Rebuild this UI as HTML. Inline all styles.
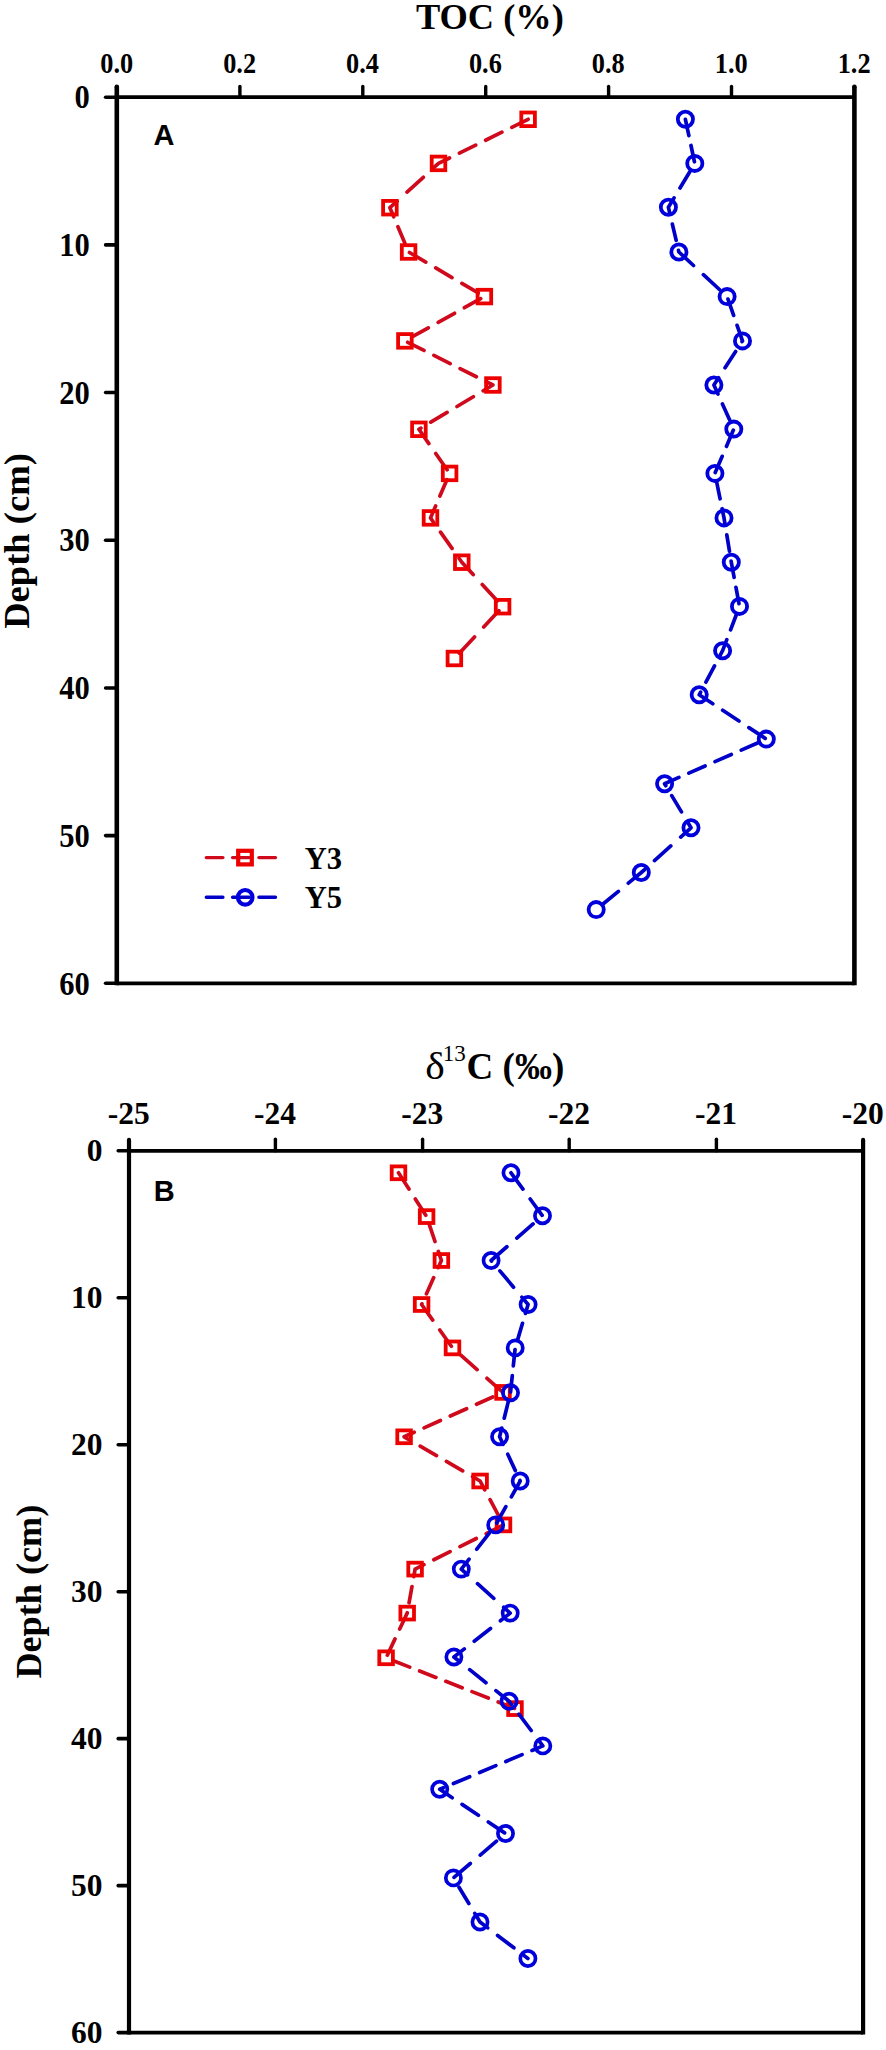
<!DOCTYPE html>
<html><head><meta charset="utf-8"><title>TOC and d13C depth profiles</title>
<style>html,body{margin:0;padding:0;background:#fff;width:886px;height:2050px;overflow:hidden}svg{display:block}</style>
</head><body>
<svg width="886" height="2050" viewBox="0 0 886 2050">
<rect width="886" height="2050" fill="#fff"/>
<g stroke="#000" stroke-linecap="butt">
<line x1="116.8" y1="86.8" x2="116.8" y2="985.15" stroke-width="4.6"/>
<circle cx="116.8" cy="86.8" r="2.3" fill="#000" stroke="none"/>
<line x1="854.4" y1="86.8" x2="854.4" y2="985.15" stroke-width="4.6"/>
<circle cx="854.4" cy="86.8" r="2.3" fill="#000" stroke="none"/>
<line x1="116.8" y1="97.2" x2="854.4" y2="97.2" stroke-width="3.7"/>
<line x1="116.8" y1="983.3" x2="854.4" y2="983.3" stroke-width="3.7"/>
<line x1="239.9" y1="86.4" x2="239.9" y2="97.2" stroke-width="3.4" stroke-linecap="round"/>
<line x1="362.8" y1="86.4" x2="362.8" y2="97.2" stroke-width="3.4" stroke-linecap="round"/>
<line x1="485.7" y1="86.4" x2="485.7" y2="97.2" stroke-width="3.4" stroke-linecap="round"/>
<line x1="608.6" y1="86.4" x2="608.6" y2="97.2" stroke-width="3.4" stroke-linecap="round"/>
<line x1="731.5" y1="86.4" x2="731.5" y2="97.2" stroke-width="3.4" stroke-linecap="round"/>
<line x1="105.6" y1="97.2" x2="116.8" y2="97.2" stroke-width="3.6" stroke-linecap="round"/>
<line x1="105.6" y1="244.88" x2="116.8" y2="244.88" stroke-width="3.6" stroke-linecap="round"/>
<line x1="105.6" y1="392.57" x2="116.8" y2="392.57" stroke-width="3.6" stroke-linecap="round"/>
<line x1="105.6" y1="540.25" x2="116.8" y2="540.25" stroke-width="3.6" stroke-linecap="round"/>
<line x1="105.6" y1="687.93" x2="116.8" y2="687.93" stroke-width="3.6" stroke-linecap="round"/>
<line x1="105.6" y1="835.62" x2="116.8" y2="835.62" stroke-width="3.6" stroke-linecap="round"/>
<line x1="105.6" y1="983.3" x2="116.8" y2="983.3" stroke-width="3.6" stroke-linecap="round"/>
</g>
<text transform="translate(116.7,73.1) scale(0.975,1.06)" x="0" y="0" font-family='"Liberation Serif", serif' font-size="27" font-weight="bold" text-anchor="middle" >0.0</text>
<text transform="translate(239.6,73.1) scale(0.975,1.06)" x="0" y="0" font-family='"Liberation Serif", serif' font-size="27" font-weight="bold" text-anchor="middle" >0.2</text>
<text transform="translate(362.5,73.1) scale(0.975,1.06)" x="0" y="0" font-family='"Liberation Serif", serif' font-size="27" font-weight="bold" text-anchor="middle" >0.4</text>
<text transform="translate(485.4,73.1) scale(0.975,1.06)" x="0" y="0" font-family='"Liberation Serif", serif' font-size="27" font-weight="bold" text-anchor="middle" >0.6</text>
<text transform="translate(608.3,73.1) scale(0.975,1.06)" x="0" y="0" font-family='"Liberation Serif", serif' font-size="27" font-weight="bold" text-anchor="middle" >0.8</text>
<text transform="translate(731.2,73.1) scale(0.975,1.06)" x="0" y="0" font-family='"Liberation Serif", serif' font-size="27" font-weight="bold" text-anchor="middle" >1.0</text>
<text transform="translate(854.1,73.1) scale(0.975,1.06)" x="0" y="0" font-family='"Liberation Serif", serif' font-size="27" font-weight="bold" text-anchor="middle" >1.2</text>
<text transform="translate(89.8,108.4) scale(0.97,1.05)" x="0" y="0" font-family='"Liberation Serif", serif' font-size="31.5" font-weight="bold" text-anchor="end" >0</text>
<text transform="translate(89.8,256.08) scale(0.97,1.05)" x="0" y="0" font-family='"Liberation Serif", serif' font-size="31.5" font-weight="bold" text-anchor="end" >10</text>
<text transform="translate(89.8,403.77) scale(0.97,1.05)" x="0" y="0" font-family='"Liberation Serif", serif' font-size="31.5" font-weight="bold" text-anchor="end" >20</text>
<text transform="translate(89.8,551.45) scale(0.97,1.05)" x="0" y="0" font-family='"Liberation Serif", serif' font-size="31.5" font-weight="bold" text-anchor="end" >30</text>
<text transform="translate(89.8,699.13) scale(0.97,1.05)" x="0" y="0" font-family='"Liberation Serif", serif' font-size="31.5" font-weight="bold" text-anchor="end" >40</text>
<text transform="translate(89.8,846.82) scale(0.97,1.05)" x="0" y="0" font-family='"Liberation Serif", serif' font-size="31.5" font-weight="bold" text-anchor="end" >50</text>
<text transform="translate(89.8,994.5) scale(0.97,1.05)" x="0" y="0" font-family='"Liberation Serif", serif' font-size="31.5" font-weight="bold" text-anchor="end" >60</text>
<text x="489.9" y="29.2" font-family='"Liberation Serif", serif' font-size="36.4" font-weight="bold" text-anchor="middle" >TOC (%)</text>
<text transform="translate(28.6,541) rotate(-90)" x="0" y="0" font-family='"Liberation Serif", serif' font-size="36.6" font-weight="bold" text-anchor="middle">Depth (cm)</text>
<text x="153.5" y="145.1" font-family='"Liberation Sans", sans-serif' font-size="29" font-weight="bold" text-anchor="start" >A</text>
<path d="M528.1,119.3 L511.8,127.32 M501.9,132.2 L485.6,140.22 M475.7,145.09 L459.4,153.11 M449.5,157.99 L438.5,163.4 L433.2,168.23 M423.3,177.26 L407,192.11 M397.1,201.14 L389.9,207.7 L393.74,216.8 M397.92,226.7 L404.8,243 M409.5,252.53 L425.8,262.12 M435.7,267.95 L452,277.54 M461.9,283.36 L478.2,292.95 M480.7,298.66 L464.4,307.74 M454.5,313.26 L438.2,322.34 M428.3,327.86 L412,336.94 M407.7,342.3 L424,350.47 M433.9,355.43 L450.2,363.6 M460.1,368.56 L476.4,376.73 M486.3,381.69 L492.9,385 L483.2,390.81 M473.3,396.73 L457,406.49 M447.1,412.42 L430.8,422.18 M420.9,428.1 L418.9,429.3 L428.85,443.6 M435.75,453.5 L447.09,469.8 M446.9,479.7 L439.9,496 M435.65,505.9 L430.5,517.9 L433.54,522.2 M440.53,532.1 L452.05,548.4 M459.04,558.3 L461.8,562.2 L473.17,574.6 M482.25,584.5 L497.19,600.8 M498.88,610.7 L483.71,627 M474.5,636.9 L459.33,653.2" fill="none" stroke="#cf0a1c" stroke-width="3.7" stroke-linejoin="round" stroke-linecap="round"/>
<rect x="521.3" y="112.5" width="13.6" height="13.6" fill="none" stroke="#ec0000" stroke-width="3.8"/>
<rect x="431.7" y="156.6" width="13.6" height="13.6" fill="none" stroke="#ec0000" stroke-width="3.8"/>
<rect x="383.1" y="200.9" width="13.6" height="13.6" fill="none" stroke="#ec0000" stroke-width="3.8"/>
<rect x="401.8" y="245.2" width="13.6" height="13.6" fill="none" stroke="#ec0000" stroke-width="3.8"/>
<rect x="477.6" y="289.8" width="13.6" height="13.6" fill="none" stroke="#ec0000" stroke-width="3.8"/>
<rect x="398.1" y="334.1" width="13.6" height="13.6" fill="none" stroke="#ec0000" stroke-width="3.8"/>
<rect x="486.1" y="378.2" width="13.6" height="13.6" fill="none" stroke="#ec0000" stroke-width="3.8"/>
<rect x="412.1" y="422.5" width="13.6" height="13.6" fill="none" stroke="#ec0000" stroke-width="3.8"/>
<rect x="442.8" y="466.6" width="13.6" height="13.6" fill="none" stroke="#ec0000" stroke-width="3.8"/>
<rect x="423.7" y="511.1" width="13.6" height="13.6" fill="none" stroke="#ec0000" stroke-width="3.8"/>
<rect x="455" y="555.4" width="13.6" height="13.6" fill="none" stroke="#ec0000" stroke-width="3.8"/>
<rect x="495.8" y="599.9" width="13.6" height="13.6" fill="none" stroke="#ec0000" stroke-width="3.8"/>
<rect x="447.6" y="651.7" width="13.6" height="13.6" fill="none" stroke="#ec0000" stroke-width="3.8"/>
<path d="M685.4,119.3 L688.87,135.6 M690.98,145.5 L694.46,161.8 M689.81,171.7 L680.01,188 M674.05,197.9 L668.4,207.3 L670.02,214.2 M672.35,224.1 L676.18,240.4 M678.5,250.3 L678.9,252 L693.5,265.51 M703.4,274.67 L719.7,289.75 M727.97,299.1 L733.64,315.4 M737.08,325.3 L742.5,340.9 L742.05,341.6 M735.63,351.5 L725.05,367.8 M718.63,377.7 L713.9,385 L717.96,394 M722.43,403.9 L729.78,420.2 M733.37,430.1 L726.42,446.4 M722.2,456.3 L715.24,472.6 M716.76,482.5 L720.09,498.8 M722.12,508.7 L724,517.9 L725.17,525 M726.8,534.9 L729.49,551.2 M731.12,561.1 L731.3,562.2 L734.12,577.4 M735.96,587.3 L738.98,603.6 M736.79,613.5 L730.57,629.8 M726.8,639.7 L722.6,650.7 L719.79,656 M714.53,665.9 L705.89,682.2 M700.63,692.1 L699.2,694.8 L712.8,703.78 M722.7,710.31 L739,721.08 M748.9,727.61 L765.2,738.37 M757.5,742.96 L741.2,750.11 M731.3,754.45 L715,761.6 M705.1,765.94 L688.8,773.09 M678.9,777.43 L664.6,783.7 L665.8,785.7 M671.72,795.6 L681.48,811.9 M687.41,821.8 L691,827.8 L680.7,837.06 M670.8,845.97 L654.5,860.63 M644.6,869.53 L641.3,872.5 L628.3,883.19 M618.4,891.34 L602.1,904.75" fill="none" stroke="#0000c8" stroke-width="3.7" stroke-linejoin="round" stroke-linecap="round"/>
<circle cx="685.4" cy="119.3" r="7.6" fill="none" stroke="#0000dd" stroke-width="3.8"/>
<circle cx="694.8" cy="163.4" r="7.6" fill="none" stroke="#0000dd" stroke-width="3.8"/>
<circle cx="668.4" cy="207.3" r="7.6" fill="none" stroke="#0000dd" stroke-width="3.8"/>
<circle cx="678.9" cy="252" r="7.6" fill="none" stroke="#0000dd" stroke-width="3.8"/>
<circle cx="727.1" cy="296.6" r="7.6" fill="none" stroke="#0000dd" stroke-width="3.8"/>
<circle cx="742.5" cy="340.9" r="7.6" fill="none" stroke="#0000dd" stroke-width="3.8"/>
<circle cx="713.9" cy="385" r="7.6" fill="none" stroke="#0000dd" stroke-width="3.8"/>
<circle cx="733.8" cy="429.1" r="7.6" fill="none" stroke="#0000dd" stroke-width="3.8"/>
<circle cx="714.9" cy="473.4" r="7.6" fill="none" stroke="#0000dd" stroke-width="3.8"/>
<circle cx="724" cy="517.9" r="7.6" fill="none" stroke="#0000dd" stroke-width="3.8"/>
<circle cx="731.3" cy="562.2" r="7.6" fill="none" stroke="#0000dd" stroke-width="3.8"/>
<circle cx="739.5" cy="606.4" r="7.6" fill="none" stroke="#0000dd" stroke-width="3.8"/>
<circle cx="722.6" cy="650.7" r="7.6" fill="none" stroke="#0000dd" stroke-width="3.8"/>
<circle cx="699.2" cy="694.8" r="7.6" fill="none" stroke="#0000dd" stroke-width="3.8"/>
<circle cx="766.3" cy="739.1" r="7.6" fill="none" stroke="#0000dd" stroke-width="3.8"/>
<circle cx="664.6" cy="783.7" r="7.6" fill="none" stroke="#0000dd" stroke-width="3.8"/>
<circle cx="691" cy="827.8" r="7.6" fill="none" stroke="#0000dd" stroke-width="3.8"/>
<circle cx="641.3" cy="872.5" r="7.6" fill="none" stroke="#0000dd" stroke-width="3.8"/>
<circle cx="596.2" cy="909.6" r="7.6" fill="none" stroke="#0000dd" stroke-width="3.8"/>
<path d="M206.3,857.6 L275.5,857.6" stroke="#cf0a1c" stroke-width="3.4" stroke-dasharray="16.6 9.7" stroke-linecap="round"/>
<rect x="238.2" y="850.8" width="13.6" height="13.6" fill="none" stroke="#ec0000" stroke-width="4.2"/>
<text transform="translate(304.7,869.2) scale(0.955,1.01)" x="0" y="0" font-family='"Liberation Serif", serif' font-size="32" font-weight="bold" text-anchor="start" >Y3</text>
<path d="M206.3,897.3 L275.5,897.3" stroke="#0000c8" stroke-width="3.4" stroke-dasharray="16.6 9.7" stroke-linecap="round"/>
<circle cx="245.2" cy="897.3" r="7.3" fill="none" stroke="#0000dd" stroke-width="4.2"/>
<text transform="translate(304.7,907.8) scale(0.955,1.01)" x="0" y="0" font-family='"Liberation Serif", serif' font-size="32" font-weight="bold" text-anchor="start" >Y5</text>
<g stroke="#000" stroke-linecap="butt">
<line x1="129.0" y1="1139.9" x2="129.0" y2="2034.5" stroke-width="4.2"/>
<circle cx="129.0" cy="1139.9" r="2.1" fill="#000" stroke="none"/>
<line x1="863.1" y1="1139.9" x2="863.1" y2="2034.5" stroke-width="4.2"/>
<circle cx="863.1" cy="1139.9" r="2.1" fill="#000" stroke="none"/>
<line x1="129.0" y1="1150.8" x2="863.1" y2="1150.8" stroke-width="3.8"/>
<line x1="129.0" y1="2032.6" x2="863.1" y2="2032.6" stroke-width="3.8"/>
<line x1="275.4" y1="1139.3" x2="275.4" y2="1150.8" stroke-width="3.4" stroke-linecap="round"/>
<line x1="422.6" y1="1139.3" x2="422.6" y2="1150.8" stroke-width="3.4" stroke-linecap="round"/>
<line x1="569.2" y1="1139.3" x2="569.2" y2="1150.8" stroke-width="3.4" stroke-linecap="round"/>
<line x1="716.4" y1="1139.3" x2="716.4" y2="1150.8" stroke-width="3.4" stroke-linecap="round"/>
<line x1="118.2" y1="1150.8" x2="129.0" y2="1150.8" stroke-width="3.6" stroke-linecap="round"/>
<line x1="118.2" y1="1297.77" x2="129.0" y2="1297.77" stroke-width="3.6" stroke-linecap="round"/>
<line x1="118.2" y1="1444.73" x2="129.0" y2="1444.73" stroke-width="3.6" stroke-linecap="round"/>
<line x1="118.2" y1="1591.7" x2="129.0" y2="1591.7" stroke-width="3.6" stroke-linecap="round"/>
<line x1="118.2" y1="1738.67" x2="129.0" y2="1738.67" stroke-width="3.6" stroke-linecap="round"/>
<line x1="118.2" y1="1885.63" x2="129.0" y2="1885.63" stroke-width="3.6" stroke-linecap="round"/>
<line x1="118.2" y1="2032.6" x2="129.0" y2="2032.6" stroke-width="3.6" stroke-linecap="round"/>
</g>
<text x="128.8" y="1123.7" font-family='"Liberation Serif", serif' font-size="31.5" font-weight="bold" text-anchor="middle" >-25</text>
<text x="275.1" y="1123.7" font-family='"Liberation Serif", serif' font-size="31.5" font-weight="bold" text-anchor="middle" >-24</text>
<text x="422.3" y="1123.7" font-family='"Liberation Serif", serif' font-size="31.5" font-weight="bold" text-anchor="middle" >-23</text>
<text x="568.9" y="1123.7" font-family='"Liberation Serif", serif' font-size="31.5" font-weight="bold" text-anchor="middle" >-22</text>
<text x="716.1" y="1123.7" font-family='"Liberation Serif", serif' font-size="31.5" font-weight="bold" text-anchor="middle" >-21</text>
<text x="862.8" y="1123.7" font-family='"Liberation Serif", serif' font-size="31.5" font-weight="bold" text-anchor="middle" >-20</text>
<text x="102.4" y="1161.4" font-family='"Liberation Serif", serif' font-size="31.5" font-weight="bold" text-anchor="end" >0</text>
<text x="102.4" y="1308.37" font-family='"Liberation Serif", serif' font-size="31.5" font-weight="bold" text-anchor="end" >10</text>
<text x="102.4" y="1455.33" font-family='"Liberation Serif", serif' font-size="31.5" font-weight="bold" text-anchor="end" >20</text>
<text x="102.4" y="1602.3" font-family='"Liberation Serif", serif' font-size="31.5" font-weight="bold" text-anchor="end" >30</text>
<text x="102.4" y="1749.27" font-family='"Liberation Serif", serif' font-size="31.5" font-weight="bold" text-anchor="end" >40</text>
<text x="102.4" y="1896.23" font-family='"Liberation Serif", serif' font-size="31.5" font-weight="bold" text-anchor="end" >50</text>
<text x="102.4" y="2043.2" font-family='"Liberation Serif", serif' font-size="31.5" font-weight="bold" text-anchor="end" >60</text>
<text x="0" y="0" transform="translate(425.2,1078.6) scale(1.15,1.04)" font-family='"Liberation Serif", serif' font-size="36">δ</text>
<text x="442.7" y="1060.8" font-family='"Liberation Serif", serif' font-size="23">13</text>
<text x="466.6" y="1078.6" font-family='"Liberation Serif", serif' font-size="37" font-weight="bold">C (‰)</text>
<text transform="translate(40.7,1591.7) rotate(-90)" x="0" y="0" font-family='"Liberation Serif", serif' font-size="36.2" font-weight="bold" text-anchor="middle">Depth (cm)</text>
<text x="153.7" y="1201.2" font-family='"Liberation Sans", sans-serif' font-size="29" font-weight="bold" text-anchor="start" >B</text>
<path d="M398.5,1172.8 L408.96,1189.1 M415.31,1199 L425.77,1215.3 M429.5,1225.2 L434.99,1241.5 M438.33,1251.4 L441.4,1260.5 L438.16,1267.7 M433.71,1277.6 L426.37,1293.9 M421.92,1303.8 L421.6,1304.5 L432.71,1320.1 M439.76,1330 L451.36,1346.3 M460.8,1355.21 L477.1,1369.58 M487,1378.3 L503,1392.4 L502.7,1392.53 M492.8,1396.98 L476.5,1404.3 M466.6,1408.74 L450.3,1416.06 M440.4,1420.5 L424.1,1427.82 M414.2,1432.27 L404.1,1436.8 L410.3,1440.41 M420.2,1446.16 L436.5,1455.64 M446.4,1461.4 L462.7,1470.88 M472.6,1476.64 L480.1,1481 L484.79,1489.8 M490.07,1499.7 L498.76,1516 M502.5,1525.4 L486.2,1533.55 M476.3,1538.5 L460,1546.65 M450.1,1551.6 L433.8,1559.75 M423.9,1564.7 L415.1,1569.1 L413.75,1576.6 M411.98,1586.5 L409.05,1602.8 M407.27,1612.7 L407.2,1613.1 L399.69,1629 M395.02,1638.9 L387.33,1655.2 M393.4,1660.68 L409.7,1667.1 M419.6,1671 L435.9,1677.43 M445.8,1681.33 L462.1,1687.75 M472,1691.65 L488.3,1698.08 M498.2,1701.98 L514.5,1708.4" fill="none" stroke="#cf0a1c" stroke-width="3.7" stroke-linejoin="round" stroke-linecap="round"/>
<rect x="391.7" y="1166.4" width="13.6" height="12.8" fill="none" stroke="#ec0000" stroke-width="3.8"/>
<rect x="419.8" y="1210.2" width="13.6" height="12.8" fill="none" stroke="#ec0000" stroke-width="3.8"/>
<rect x="434.6" y="1254.1" width="13.6" height="12.8" fill="none" stroke="#ec0000" stroke-width="3.8"/>
<rect x="414.8" y="1298.1" width="13.6" height="12.8" fill="none" stroke="#ec0000" stroke-width="3.8"/>
<rect x="445.7" y="1341.5" width="13.6" height="12.8" fill="none" stroke="#ec0000" stroke-width="3.8"/>
<rect x="496.2" y="1386" width="13.6" height="12.8" fill="none" stroke="#ec0000" stroke-width="3.8"/>
<rect x="397.3" y="1430.4" width="13.6" height="12.8" fill="none" stroke="#ec0000" stroke-width="3.8"/>
<rect x="473.3" y="1474.6" width="13.6" height="12.8" fill="none" stroke="#ec0000" stroke-width="3.8"/>
<rect x="496.7" y="1518.5" width="13.6" height="12.8" fill="none" stroke="#ec0000" stroke-width="3.8"/>
<rect x="408.3" y="1562.7" width="13.6" height="12.8" fill="none" stroke="#ec0000" stroke-width="3.8"/>
<rect x="400.4" y="1606.7" width="13.6" height="12.8" fill="none" stroke="#ec0000" stroke-width="3.8"/>
<rect x="379.3" y="1651.4" width="13.6" height="12.8" fill="none" stroke="#ec0000" stroke-width="3.8"/>
<rect x="508.2" y="1702.2" width="13.6" height="12.8" fill="none" stroke="#ec0000" stroke-width="3.8"/>
<path d="M511,1172.8 L522.94,1189.1 M530.19,1199 L542.13,1215.3 M533.1,1223.97 L516.8,1238.15 M506.9,1246.76 L491.1,1260.5 L491.52,1261 M499.85,1270.9 L513.55,1287.2 M521.88,1297.1 L528.1,1304.5 L525.45,1313.4 M522.51,1323.3 L517.67,1339.6 M515.03,1349.5 L513.32,1365.8 M512.28,1375.7 L510.57,1392 M508.23,1401.9 L504.2,1418.2 M501.75,1428.1 L499.6,1436.8 L503.14,1444.4 M507.76,1454.3 L515.35,1470.6 M519.97,1480.5 L520.2,1481 L511.38,1496.8 M505.86,1506.7 L496.76,1523 M489.47,1532.9 L476.79,1549.2 M469.08,1559.1 L461.3,1569.1 L467.6,1574.77 M477.5,1583.68 L493.8,1598.34 M503.7,1607.25 L510.2,1613.1 L500.4,1620.74 M490.5,1628.46 L474.2,1641.17 M464.3,1648.89 L453.9,1657 L459.8,1661.72 M469.7,1669.65 L486,1682.7 M495.9,1690.63 L509.1,1701.2 L511.44,1704.3 M518.9,1714.2 L531.19,1730.5 M538.65,1740.4 L542.8,1745.9 L532,1750.45 M522.1,1754.61 L505.8,1761.48 M495.9,1765.64 L479.6,1772.5 M469.7,1776.67 L453.4,1783.53 M443.5,1787.7 L439.7,1789.3 L452.2,1797.7 M462.1,1804.35 L478.4,1815.3 M488.3,1821.95 L504.6,1832.9 M496.5,1841.17 L480.2,1855.06 M470.3,1863.5 L454,1877.39 M459.01,1887.2 L468.84,1903.5 M474.81,1913.4 L480,1922 L487.7,1927.87 M497.6,1935.41 L513.9,1947.83 M523.8,1955.38 L527.9,1958.5" fill="none" stroke="#0000c8" stroke-width="3.7" stroke-linejoin="round" stroke-linecap="round"/>
<circle cx="511" cy="1172.8" r="7.6" fill="none" stroke="#0000dd" stroke-width="3.7"/>
<circle cx="542.5" cy="1215.8" r="7.6" fill="none" stroke="#0000dd" stroke-width="3.7"/>
<circle cx="491.1" cy="1260.5" r="7.6" fill="none" stroke="#0000dd" stroke-width="3.7"/>
<circle cx="528.1" cy="1304.5" r="7.6" fill="none" stroke="#0000dd" stroke-width="3.7"/>
<circle cx="515.2" cy="1347.9" r="7.6" fill="none" stroke="#0000dd" stroke-width="3.7"/>
<circle cx="510.5" cy="1392.7" r="7.6" fill="none" stroke="#0000dd" stroke-width="3.7"/>
<circle cx="499.6" cy="1436.8" r="7.6" fill="none" stroke="#0000dd" stroke-width="3.7"/>
<circle cx="520.2" cy="1481" r="7.6" fill="none" stroke="#0000dd" stroke-width="3.7"/>
<circle cx="495.7" cy="1524.9" r="7.6" fill="none" stroke="#0000dd" stroke-width="3.7"/>
<circle cx="461.3" cy="1569.1" r="7.6" fill="none" stroke="#0000dd" stroke-width="3.7"/>
<circle cx="510.2" cy="1613.1" r="7.6" fill="none" stroke="#0000dd" stroke-width="3.7"/>
<circle cx="453.9" cy="1657" r="7.6" fill="none" stroke="#0000dd" stroke-width="3.7"/>
<circle cx="509.1" cy="1701.2" r="7.6" fill="none" stroke="#0000dd" stroke-width="3.7"/>
<circle cx="542.8" cy="1745.9" r="7.6" fill="none" stroke="#0000dd" stroke-width="3.7"/>
<circle cx="439.7" cy="1789.3" r="7.6" fill="none" stroke="#0000dd" stroke-width="3.7"/>
<circle cx="505.5" cy="1833.5" r="7.6" fill="none" stroke="#0000dd" stroke-width="3.7"/>
<circle cx="453.4" cy="1877.9" r="7.6" fill="none" stroke="#0000dd" stroke-width="3.7"/>
<circle cx="480" cy="1922" r="7.6" fill="none" stroke="#0000dd" stroke-width="3.7"/>
<circle cx="527.9" cy="1958.5" r="7.6" fill="none" stroke="#0000dd" stroke-width="3.7"/>
</svg>
</body></html>
